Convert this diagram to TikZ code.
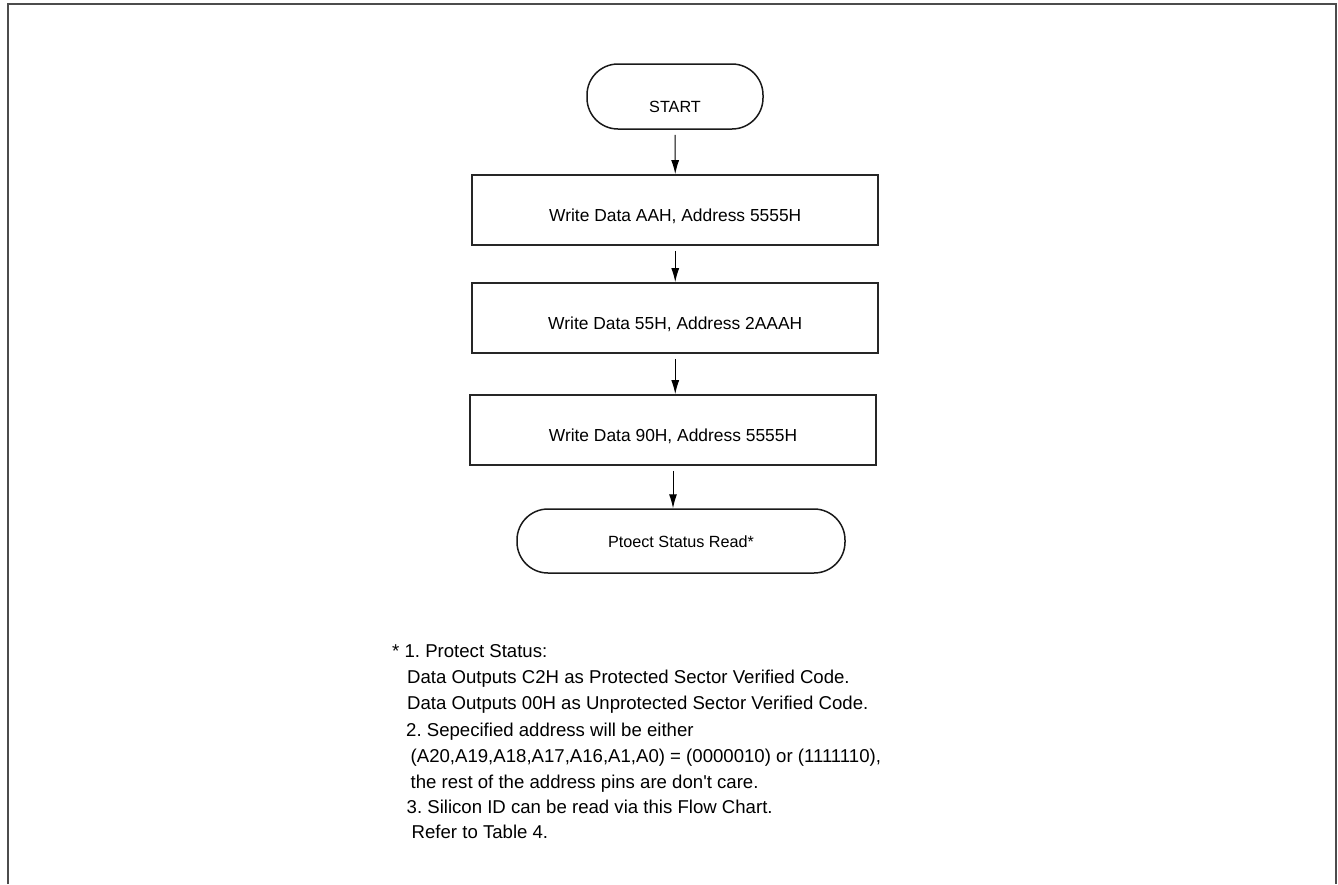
\documentclass[tikz,border=0pt]{standalone}
\usepackage{fontspec}
\setmainfont{Liberation Sans}
\usetikzlibrary{arrows.meta}
\frenchspacing
\begin{document}
\begin{tikzpicture}[x=1pt,y=-1pt,
  proc/.style={draw=black!85, line width=1.8pt, minimum width=406pt, minimum height=70pt, inner sep=0pt,
    text height=22.4pt, text depth=0pt, font=\fontsize{17.4}{20}\selectfont},
  term/.style={draw=black!90, line width=1.5pt, rounded corners=31pt, inner sep=0pt,
    font=\fontsize{16.2}{19}\selectfont},
  flow/.style={-{Latex[length=14pt,width=8pt]}, line width=1pt, shorten <=5pt},
  note/.style={anchor=base west, inner sep=0pt, font=\fontsize{18.6}{22}\selectfont},
  frame/.style={line width=2pt, draw=black!70}]
\useasboundingbox (0,0) rectangle (1338,884);
\coordinate (fbl) at (7.5,884);
\coordinate (ftl) at (7.5,4);
\coordinate (ftr) at (1336,4);
\coordinate (fbr) at (1336,884);
\draw[frame] (fbl) -- (ftl) -- (ftr) -- (fbr);

\node[term, minimum width=176pt, minimum height=65pt, text height=31.6pt, text depth=0pt] (start) at (675,96.5) {START};
\node[proc] (b1) at (675.25,210) {Write Data AAH, Address 5555H};
\node[proc] (b2) at (675.25,318) {Write Data 55H, Address 2AAAH};
\node[proc] (b3) at (673,430) {Write Data 90H, Address 5555H};
\node[term, minimum width=328pt, minimum height=64pt, text height=13.6pt, text depth=0pt] (stop) at (681,541) {Ptoect Status Read*};

\draw[flow] (start.south) -- (b1.north);
\draw[flow] (b1.south) -- (b2.north);
\draw[flow] (b2.south) -- (b2.south |- b3.north);
\draw[flow] (b3.south) -- (b3.south |- stop.north);

\node[note] (n1) at (392,657) {* 1. Protect Status:};
\node[note] (n2) at (407,683) {Data Outputs C2H as Protected Sector Verified Code.};
\node[note] (n3) at (407,709) {Data Outputs 00H as Unprotected Sector Verified Code.};
\node[note] (n4) at (406,736) {2. Sepecified address will be either};
\node[note] (n5) at (410.5,762) {(A20,A19,A18,A17,A16,A1,A0) = (0000010) or (1111110),};
\node[note] (n6) at (410.5,788) {the rest of the address pins are don\textquotesingle t care.};
\node[note] (n7) at (406.5,813) {3. Silicon ID can be read via this Flow Chart.};
\node[note] (n8) at (411.5,838) {Refer to Table 4.};
\end{tikzpicture}
\end{document}
